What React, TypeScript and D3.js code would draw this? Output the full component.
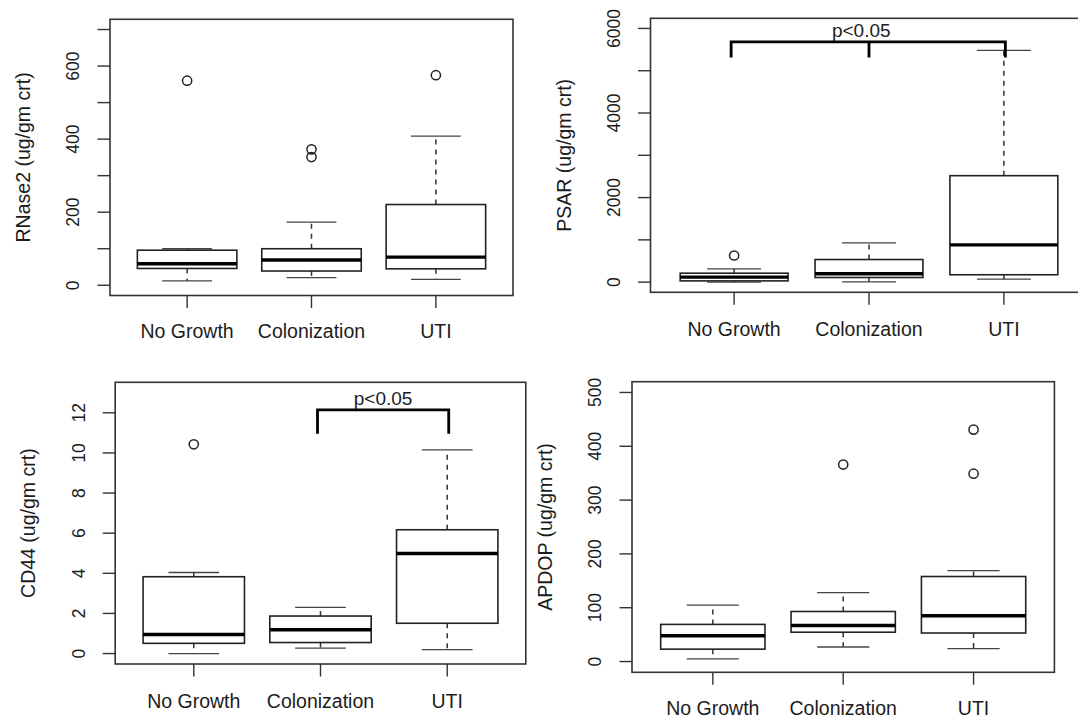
import React from "react";
import * as d3 from "d3";

// ---------- data ----------
const categories = ["No Growth", "Colonization", "UTI"];

// five-number stats per group: [lower whisker, Q1, median, Q3, upper whisker]
const rnase2Stats = [
  [12, 46, 59, 96, 100],
  [21, 39, 69, 100, 173],
  [16, 45, 77, 221, 408],
];
const rnase2Outliers = [[560], [351, 372], [575]];
const rnase2Ticks = [0, 100, 200, 300, 400, 500, 600, 700];
const rnase2TickLabels = [0, 200, 400, 600];

const psarStats = [
  [0, 30, 118, 212, 314],
  [5, 110, 197, 535, 929],
  [71, 175, 881, 2518, 5481],
];
const psarOutliers = [[630], [], []];
const psarTicks = [0, 1000, 2000, 3000, 4000, 5000, 6000];
const psarTickLabels = [0, 2000, 4000, 6000];
// bracket: [from group, to group, extra leg group or 0, bar value, leg-end value]
const psarBracket = [1, 3, 2, 5684, 5315];

const cd44Stats = [
  [0, 0.51, 0.95, 3.83, 4.04],
  [0.27, 0.55, 1.19, 1.87, 2.3],
  [0.2, 1.51, 4.99, 6.17, 10.15],
];
const cd44Outliers = [[10.43], [], []];
const cd44Ticks = [0, 2, 4, 6, 8, 10, 12];
const cd44TickLabels = [0, 2, 4, 6, 8, 10, 12];
const cd44Bracket = [2, 3, 0, 12.15, 10.96];

const apdopStats = [
  [5, 23, 48, 69, 105],
  [27, 54.5, 67, 93, 128],
  [24, 53, 85, 158, 169],
];
const apdopOutliers = [[], [366], [349, 431]];
const apdopTicks = [0, 100, 200, 300, 400, 500];
const apdopTickLabels = [0, 100, 200, 300, 400, 500];

const FONT = "'Liberation Sans', Arial, Helvetica, sans-serif";
const INK = "#1c1c1c";

type PanelProps = {
  left: number;
  right: number;
  top: number;
  bottom: number;
  ylim: [number, number];
  stats: number[][];
  outliers: number[][];
  ticks: number[];
  tickLabels: number[];
  yLabel: string;
  xLabelOffset: number;
  bracket?: number[];
};

function Panel(p: PanelProps) {
  const r = p.ylim[1] - p.ylim[0];
  const y = d3
    .scaleLinear()
    .domain([p.ylim[0] - 0.04 * r, p.ylim[1] + 0.04 * r])
    .range([p.bottom, p.top]);
  const x = d3.scaleLinear().domain([0.38, 3.62]).range([p.left, p.right]);
  const tickLen = 12.5;
  const midY = (p.top + p.bottom) / 2;
  const tickLabelX = p.left - 37;
  const yLabelX = p.left - 87;

  let bracketEl = null;
  if (p.bracket) {
    const [g1, g2, gm, barV, legV] = p.bracket;
    const x1 = x(g1) - 3;
    const x2 = x(g2) + 1.5;
    const yb = y(barV);
    const yl = y(legV);
    const path = d3.path();
    path.moveTo(x1, yl);
    path.lineTo(x1, yb);
    path.lineTo(x2, yb);
    path.lineTo(x2, yl);
    if (gm) {
      path.moveTo(x(gm), yb);
      path.lineTo(x(gm), yl);
    }
    bracketEl = (
      <g>
        <path d={path.toString()} fill="none" stroke="#000" strokeWidth={2.8} />
        <text
          x={(x1 + x2) / 2 + (gm ? -7 : 0)}
          y={yb - 5}
          textAnchor="middle"
          fontFamily={FONT}
          fontSize={19}
          fill={INK}
        >
          p&lt;0.05
        </text>
      </g>
    );
  }

  return (
    <g>
      {/* frame */}
      <rect
        x={p.left}
        y={p.top}
        width={p.right - p.left}
        height={p.bottom - p.top}
        fill="none"
        stroke="#333"
        strokeWidth={1.6}
      />
      {/* y ticks */}
      {p.ticks.map((t) => (
        <line
          key={"yt" + t}
          x1={p.left - tickLen}
          x2={p.left}
          y1={y(t)}
          y2={y(t)}
          stroke="#333"
          strokeWidth={1.4}
        />
      ))}
      {p.tickLabels.map((t) => (
        <text
          key={"yl" + t}
          transform={`translate(${tickLabelX},${y(t)}) rotate(-90)`}
          dy="0.36em"
          textAnchor="middle"
          fontFamily={FONT}
          fontSize={17.5}
          fill={INK}
        >
          {t}
        </text>
      ))}
      <text
        transform={`translate(${yLabelX},${midY}) rotate(-90)`}
        dy="0.36em"
        textAnchor="middle"
        fontFamily={FONT}
        fontSize={19.5}
        fill={INK}
      >
        {p.yLabel}
      </text>
      {/* x ticks and labels */}
      {categories.map((c, i) => (
        <g key={"x" + c}>
          <line
            x1={x(i + 1)}
            x2={x(i + 1)}
            y1={p.bottom}
            y2={p.bottom + tickLen}
            stroke="#333"
            strokeWidth={1.4}
          />
          <text
            x={x(i + 1)}
            y={p.bottom + p.xLabelOffset}
            textAnchor="middle"
            fontFamily={FONT}
            fontSize={19.5}
            fill={INK}
          >
            {c}
          </text>
        </g>
      ))}
      {/* boxes */}
      {p.stats.map((s, i) => {
        const cx = x(i + 1);
        const [lo, q1, med, q3, hi] = s;
        const bw = x(i + 1.4) - cx;
        const sw = x(i + 1.2) - cx;
        return (
          <g key={"b" + i}>
            <line x1={cx} x2={cx} y1={y(q3)} y2={y(hi)} stroke="#333" strokeWidth={1.5} strokeDasharray="5,5" />
            <line x1={cx} x2={cx} y1={y(q1)} y2={y(lo)} stroke="#333" strokeWidth={1.5} strokeDasharray="5,5" />
            <line x1={cx - sw} x2={cx + sw} y1={y(hi)} y2={y(hi)} stroke="#444" strokeWidth={1.3} />
            <line x1={cx - sw} x2={cx + sw} y1={y(lo)} y2={y(lo)} stroke="#444" strokeWidth={1.3} />
            <rect
              x={cx - bw}
              y={y(q3)}
              width={2 * bw}
              height={y(q1) - y(q3)}
              fill="none"
              stroke="#222"
              strokeWidth={1.6}
            />
            <line x1={cx - bw} x2={cx + bw} y1={y(med)} y2={y(med)} stroke="#000" strokeWidth={3.4} />
            {p.outliers[i].map((o, k) => (
              <circle key={k} cx={cx} cy={y(o)} r={4.6} fill="none" stroke="#222" strokeWidth={1.5} />
            ))}
          </g>
        );
      })}
      {bracketEl}
    </g>
  );
}

export default function App() {
  return (
    <svg
      width={1078}
      height={720}
      style={{ position: "absolute", left: 0, top: 0, background: "#fff" }}
    >
      <rect width={1078} height={720} fill="#fff" />
      <Panel
        left={110}
        right={513}
        top={19.3}
        bottom={295.5}
        ylim={[0, 700]}
        stats={rnase2Stats}
        outliers={rnase2Outliers}
        ticks={rnase2Ticks}
        tickLabels={rnase2TickLabels}
        yLabel="RNase2 (ug/gm crt)"
        xLabelOffset={42.5}
      />
      <Panel
        left={650.5}
        right={1087.5}
        top={18.3}
        bottom={292.3}
        ylim={[0, 6000]}
        stats={psarStats}
        outliers={psarOutliers}
        ticks={psarTicks}
        tickLabels={psarTickLabels}
        yLabel="PSAR (ug/gm crt)"
        xLabelOffset={44}
        bracket={psarBracket}
      />
      <Panel
        left={115.2}
        right={525.8}
        top={382.3}
        bottom={664}
        ylim={[0, 13]}
        stats={cd44Stats}
        outliers={cd44Outliers}
        ticks={cd44Ticks}
        tickLabels={cd44TickLabels}
        yLabel="CD44 (ug/gm crt)"
        xLabelOffset={44}
        bracket={cd44Bracket}
      />
      <Panel
        left={632}
        right={1054.4}
        top={381.7}
        bottom={672.3}
        ylim={[0, 500]}
        stats={apdopStats}
        outliers={apdopOutliers}
        ticks={apdopTicks}
        tickLabels={apdopTickLabels}
        yLabel="APDOP (ug/gm crt)"
        xLabelOffset={43}
      />
    </svg>
  );
}
